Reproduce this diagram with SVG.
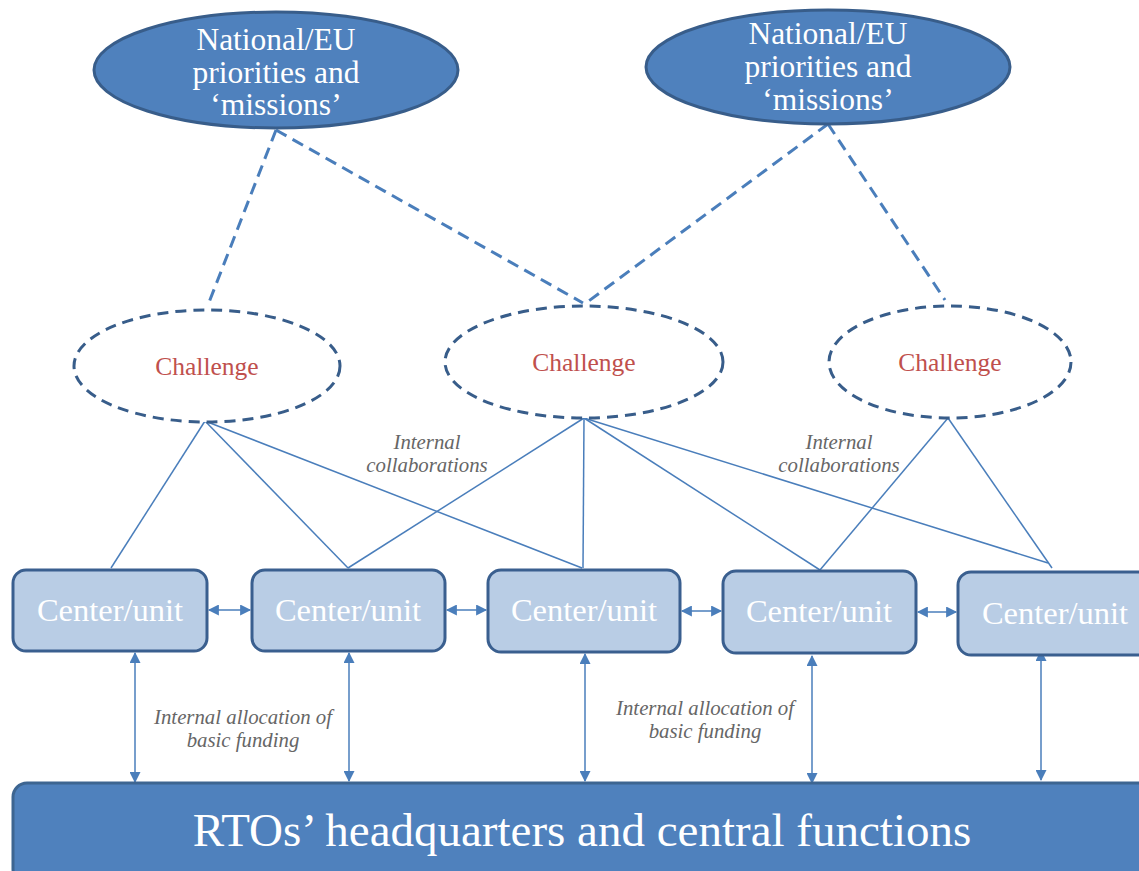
<svg xmlns="http://www.w3.org/2000/svg" width="1139" height="871" viewBox="0 0 1139 871">
<style>
.top{fill:#4F81BD;stroke:#385D8A;stroke-width:3}
.toptxt{font-family:"Liberation Serif",serif;font-size:31.5px;fill:#fff;text-anchor:middle}
.chal{fill:#fff;stroke:#385D8A;stroke-width:3;stroke-dasharray:11,7}
.chaltxt{font-family:"Liberation Serif",serif;font-size:25.5px;fill:#C0504D;text-anchor:middle}
.box{fill:#B9CDE5;stroke:#3A5F8F;stroke-width:3}
.boxtxt{font-family:"Liberation Serif",serif;font-size:32.5px;fill:#fff;text-anchor:middle}
.lbl{font-family:"Liberation Serif",serif;font-size:20.8px;font-style:italic;fill:#666;text-anchor:middle}
.dash{stroke:#4A7EBB;stroke-width:3;stroke-dasharray:12,7;fill:none}
.solid{stroke:#4A7EBB;stroke-width:1.5;fill:none}
.arr{stroke:#4A7EBB;stroke-width:1.5;fill:none;marker-start:url(#ah);marker-end:url(#ah)}
</style>
<defs>
<marker id="ah" viewBox="0 0 10 10" refX="9" refY="5" markerWidth="12" markerHeight="11" markerUnits="userSpaceOnUse" orient="auto-start-reverse">
<path d="M0,0 L10,5 L0,10 z" fill="#4A7EBB"/>
</marker>
</defs>
<g id="connectors">
<line class="dash" x1="276" y1="130" x2="208" y2="305"/>
<line class="dash" x1="276" y1="130" x2="583" y2="303"/>
<line class="dash" x1="828" y1="124" x2="586" y2="303"/>
<line class="dash" x1="828" y1="124" x2="945" y2="300"/>
<line class="solid" x1="205" y1="421" x2="111" y2="568"/>
<line class="solid" x1="205" y1="421" x2="348" y2="568"/>
<line class="solid" x1="205" y1="421" x2="582" y2="568"/>
<line class="solid" x1="584" y1="418" x2="348" y2="568"/>
<line class="solid" x1="584" y1="418" x2="583" y2="568"/>
<line class="solid" x1="584" y1="418" x2="820" y2="570"/>
<line class="solid" x1="584" y1="418" x2="1048" y2="563"/>
<line class="solid" x1="948" y1="418" x2="820" y2="570"/>
<line class="solid" x1="948" y1="418" x2="1052" y2="568"/>
<line class="arr" x1="209" y1="610" x2="250" y2="610"/>
<line class="arr" x1="447" y1="610" x2="486" y2="610"/>
<line class="arr" x1="682" y1="611" x2="721" y2="611"/>
<line class="arr" x1="918" y1="612" x2="956" y2="612"/>
<line class="arr" x1="135" y1="653" x2="135" y2="782"/>
<line class="arr" x1="349" y1="653" x2="349" y2="781"/>
<line class="arr" x1="585" y1="654" x2="585" y2="781"/>
<line class="arr" x1="812" y1="656" x2="812" y2="783"/>
<line class="arr" x1="1041" y1="651" x2="1041" y2="780"/>
</g>
<g id="labels">
<text class="lbl" x="427" y="449">Internal</text>
<text class="lbl" x="427" y="472">collaborations</text>
<text class="lbl" x="839" y="449">Internal</text>
<text class="lbl" x="839" y="472">collaborations</text>
<text class="lbl" x="243" y="724">Internal allocation of</text>
<text class="lbl" x="243" y="747">basic funding</text>
<text class="lbl" x="705" y="715">Internal allocation of</text>
<text class="lbl" x="705" y="738">basic funding</text>
</g>
<g id="priority1">
<ellipse class="top" cx="276" cy="70" rx="182" ry="58"/>
<text class="toptxt" x="276" y="50">National/EU</text>
<text class="toptxt" x="276" y="83">priorities and</text>
<text class="toptxt" x="276" y="115">‘missions’</text>
</g>
<g id="priority2">
<ellipse class="top" cx="828" cy="67" rx="182" ry="57"/>
<text class="toptxt" x="828" y="44">National/EU</text>
<text class="toptxt" x="828" y="77">priorities and</text>
<text class="toptxt" x="828" y="110">‘missions’</text>
</g>
<g id="challenge1">
<ellipse class="chal" cx="207" cy="366" rx="133" ry="56"/>
<text class="chaltxt" x="207" y="375">Challenge</text>
</g>
<g id="challenge2">
<ellipse class="chal" cx="584" cy="362" rx="139" ry="56"/>
<text class="chaltxt" x="584" y="371">Challenge</text>
</g>
<g id="challenge3">
<ellipse class="chal" cx="950" cy="362" rx="121" ry="56"/>
<text class="chaltxt" x="950" y="371">Challenge</text>
</g>
<g id="unit1">
<rect class="box" x="13" y="570" width="194" height="81" rx="13"/>
<text class="boxtxt" x="110" y="621">Center/unit</text>
</g>
<g id="unit2">
<rect class="box" x="252" y="570" width="193" height="81" rx="13"/>
<text class="boxtxt" x="348" y="621">Center/unit</text>
</g>
<g id="unit3">
<rect class="box" x="488" y="570" width="192" height="82" rx="13"/>
<text class="boxtxt" x="584" y="621">Center/unit</text>
</g>
<g id="unit4">
<rect class="box" x="723" y="571" width="193" height="82" rx="13"/>
<text class="boxtxt" x="819" y="622">Center/unit</text>
</g>
<g id="unit5">
<rect class="box" x="958" y="572" width="194" height="83" rx="13"/>
<text class="boxtxt" x="1055" y="624">Center/unit</text>
</g>
<g id="headquarters">
<rect x="13" y="783" width="1140" height="100" rx="14" fill="#4F81BD" stroke="#3D6591" stroke-width="3"/>
<text x="582" y="846" font-family="Liberation Serif, serif" font-size="47" fill="#fff" text-anchor="middle">RTOs’ headquarters and central functions</text>
</g>
</svg>
